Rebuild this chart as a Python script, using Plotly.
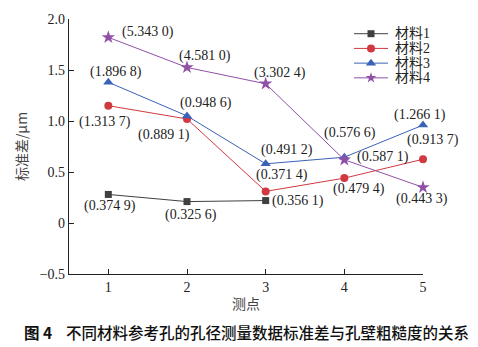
import plotly.graph_objects as go

# Measurement points and standard deviation (μm) for each material
points = [1, 2, 3, 4, 5]
series_names = ["材料1", "材料2", "材料3", "材料4"]
std_m1 = [0.28, 0.21, 0.22]
std_m2 = [1.15, 1.02, 0.31, 0.44, 0.625]
std_m3 = [1.38, 1.05, 0.58, 0.645, 0.96]
std_m4 = [1.82, 1.525, 1.365, 0.62, 0.35]

# Wall roughness values shown next to each point
rough_m1 = ["(0.374 9)", "(0.325 6)", "(0.356 1)"]
rough_m2 = ["(1.313 7)", "(0.889 1)", "(0.371 4)", "(0.479 4)", "(0.913 7)"]
rough_m3 = ["(1.896 8)", "(0.948 6)", "(0.491 2)", "(0.576 6)", "(1.266 1)"]
rough_m4 = ["(5.343 0)", "(4.581 0)", "(3.302 4)", "(0.587 1)", "(0.443 3)"]

y_ticks = [-0.5, 0, 0.5, 1.0, 1.5, 2.0]
y_tick_text = ["−0.5", "0", "0.5", "1.0", "1.5", "2.0"]

SERIF = "Liberation Serif, Noto Sans CJK SC, serif"
TEXT = "#222222"

styles = [
    dict(color="#404040", symbol="square", size=7, legend_size=7),
    dict(color="#d0393f", symbol="circle", size=8, legend_size=8),
    dict(color="#3a62b8", symbol="triangle-up", size=9, legend_size=9),
    dict(color="#9150a8", symbol="star", size=10, legend_size=8),
]
values = [std_m1, std_m2, std_m3, std_m4]
labels = [rough_m1, rough_m2, rough_m3, rough_m4]

# pixel offsets of each roughness label from its point
offsets = [
    [(2, -12), (4, -13), (32, 0)],
    [(-3, -16), (-23, -16), (16, 16), (15, -11), (10, 19)],
    [(8, 10), (19, 13), (21, 14), (6, 24), (-3, 10)],
    [(40, 5), (18, 11), (14, 11), (39, 3), (-1, -12)],
]

fig = go.Figure()
for name, vals, st in zip(series_names, values, styles):
    fig.add_trace(go.Scatter(
        x=points[:len(vals)], y=vals, name=name, mode="lines+markers",
        line=dict(color=st["color"], width=1),
        marker=dict(color=st["color"], symbol=st["symbol"], size=st["size"],
                    line=dict(width=0)),
        cliponaxis=False, showlegend=False,
    ))

annotations = []
for vals, labs, offs in zip(values, labels, offsets):
    for xv, yv, lab, (dx, dy) in zip(points, vals, labs, offs):
        annotations.append(dict(
            x=xv, y=yv, xref="x", yref="y", text=lab, showarrow=False,
            xshift=dx, yshift=dy, font=dict(family=SERIF, size=14, color=TEXT),
        ))

# Compact legend drawn on an overlay axis measured in layout pixels
LEG_X0, LEG_X1, LEG_TEXT_X = 354, 388, 393
LEG_ROWS = [29, 44, 59, 74]
for name, st, ry in zip(series_names, styles, LEG_ROWS):
    fig.add_trace(go.Scatter(
        x=[LEG_X0, LEG_X1], y=[ry, ry], xaxis="x2", yaxis="y2", mode="lines",
        line=dict(color=st["color"], width=1), showlegend=False, hoverinfo="skip",
    ))
    fig.add_trace(go.Scatter(
        x=[(LEG_X0 + LEG_X1) / 2], y=[ry], xaxis="x2", yaxis="y2", mode="markers",
        marker=dict(color=st["color"], symbol=st["symbol"], size=st["legend_size"],
                    line=dict(width=0)),
        showlegend=False, hoverinfo="skip",
    ))
    annotations.append(dict(
        x=LEG_TEXT_X, y=ry, xref="x2", yref="y2", xanchor="left", yanchor="middle",
        text=name, showarrow=False, font=dict(family=SERIF, size=14, color=TEXT),
    ))

annotations.append(dict(
    x=0.5, y=-0.227, xref="paper", yref="paper", xanchor="center", yanchor="middle",
    text="<b>图 4</b>&nbsp;&nbsp;&nbsp;&nbsp;不同材料参考孔的孔径测量数据标准差与孔壁粗糙度的关系",
    showarrow=False,
    font=dict(family="Noto Sans CJK SC", size=15.5, color="#111111", weight=500),
))

fig.update_layout(
    width=478, height=347,
    margin=dict(l=69, r=55, t=14, b=73),
    paper_bgcolor="white", plot_bgcolor="white",
    font=dict(family=SERIF, size=14, color=TEXT),
    showlegend=False,
    annotations=annotations,
    xaxis=dict(range=[0.5, 5.0], tickvals=points, ticks="inside", ticklen=5,
               tickcolor=TEXT, showline=True, linecolor=TEXT, linewidth=1.2,
               showgrid=False, zeroline=False,
               tickfont=dict(family=SERIF, size=14, color=TEXT),
               title=dict(text="测点", standoff=5,
                          font=dict(family="Noto Sans CJK SC", size=14, color="#444444"))),
    yaxis=dict(range=[-0.5, 2.0], tickvals=y_ticks, ticktext=y_tick_text,
               ticks="inside", ticklen=5, tickcolor=TEXT, showline=True,
               linecolor=TEXT, linewidth=1.2, showgrid=False, zeroline=False,
               tickfont=dict(family=SERIF, size=14, color=TEXT),
               title=dict(text="标准差/μm", standoff=8,
                          font=dict(family="Noto Sans CJK SC", size=14, color="#444444"))),
    xaxis2=dict(overlaying="x", range=[69, 423], visible=False, fixedrange=True),
    yaxis2=dict(overlaying="y", range=[274, 14], visible=False, fixedrange=True),
)

fig.write_html("out.html")
